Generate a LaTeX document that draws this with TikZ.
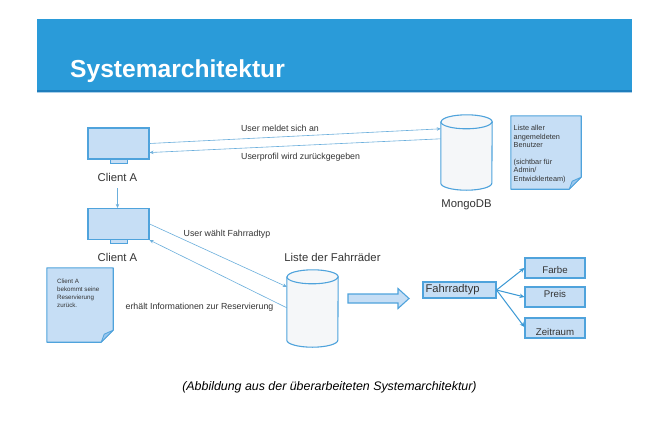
\documentclass[tikz,border=0pt]{standalone}
\usepackage{fontspec}
\setmainfont{Liberation Sans}
\usetikzlibrary{arrows.meta,calc}
\definecolor{banner}{HTML}{2A9BD9}
\definecolor{bannerdark}{HTML}{1F7EBC}
\definecolor{bannerlight}{HTML}{A9CFEA}
\definecolor{boxblue}{HTML}{C6DEF5}
\definecolor{edgeblue}{HTML}{4FA3DC}
\definecolor{lineblue}{HTML}{6BAFDC}
\definecolor{arrblue}{HTML}{3A98D4}
\definecolor{cylfill}{HTML}{F5F7F9}
\definecolor{textgray}{HTML}{333333}
\definecolor{foldblue}{HTML}{9CC6EC}
\newcommand{\mycyl}[1]{%
  \draw[draw=edgeblue, fill=cylfill, line width=1.1pt]
    ([yshift=-7pt]#1.north west) -- ([yshift=7pt]#1.south west)
    arc[start angle=180, end angle=360, x radius=25.5pt, y radius=7pt]
    -- ([yshift=-7pt]#1.north east)
    arc[start angle=0, end angle=180, x radius=25.5pt, y radius=7pt] -- cycle;
  \draw[draw=edgeblue, line width=1.1pt]
    ([yshift=-7pt]#1.north west)
    arc[start angle=180, end angle=360, x radius=25.5pt, y radius=7pt];}
\newcommand{\mynote}[1]{%
  \draw[draw=edgeblue, fill=boxblue, line width=1.1pt, line join=round]
    (#1.north west) -- (#1.north east) -- ([yshift=12pt]#1.south east)
    -- ([xshift=-12pt]#1.south east) -- (#1.south west) -- cycle;
  \draw[draw=edgeblue, fill=foldblue, line width=0.8pt, line join=round]
    ([yshift=12pt]#1.south east) -- ([xshift=-9pt,yshift=8pt]#1.south east)
    -- ([xshift=-12pt]#1.south east) -- cycle;}
\begin{document}
\begin{tikzpicture}[x=1pt,y=-1pt,
  conn/.style={draw=lineblue, line width=0.6pt, -{Stealth[length=4pt,width=3.5pt]}},
  fconn/.style={draw=arrblue, line width=1pt, -{Stealth[length=5pt,width=4.5pt]}},
  monitor/.style={draw=edgeblue, fill=boxblue, line width=1.1pt, minimum width=61pt, minimum height=31pt, inner sep=0pt},
  stand/.style={draw=edgeblue, fill=boxblue, line width=0.9pt, minimum width=17pt, minimum height=4pt, inner sep=0pt},
  lbl/.style={font=\fontsize{11.3}{13}\selectfont, text=textgray, inner sep=0pt},
  small/.style={font=\fontsize{8.8}{10}\selectfont, text=textgray, inner sep=0pt},
  ghost/.style={draw=none, inner sep=0pt},
  attr/.style={draw=edgeblue, fill=boxblue, line width=1.1pt, minimum width=60pt, minimum height=20pt, inner sep=0pt},
  attrtext/.style={font=\fontsize{9.7}{11}\selectfont, text=textgray, inner sep=0pt}
]
\useasboundingbox (0,0) rectangle (664,426);
\fill[white] (0,0) rectangle (664,426);

% banner
\fill[banner] (37,19) rectangle (632,90);
\fill[bannerdark] (37,89.5) rectangle (632,92);
\fill[bannerlight] (37,92) rectangle (632,93);
\node[anchor=base west, font=\bfseries\fontsize{24.6}{28}\selectfont, text=white, inner sep=0pt] (title) at (70,77) {Systemarchitektur};

% clients
\node[monitor] (ca1) at (118.5,143.5) {};
\node[stand] (st1) at (118.5,161) {};
\node[lbl] (la1) at (117.5,177) {Client A};
\node[monitor] (ca2) at (118.5,224) {};
\node[stand] (st2) at (118.5,241) {};
\node[lbl] (la2) at (117.5,257) {Client A};
\coordinate (dstart) at (117.5,188);
\draw[conn] (dstart) -- (ca2.north -| dstart);

% MongoDB
\node[ghost, minimum width=51pt, minimum height=75pt] (mongo) at (466.5,152.5) {};
\mycyl{mongo}
\node[lbl] (mlabel) at (466.5,205) {MongoDB};

% note top right
\node[ghost, minimum width=70pt, minimum height=73pt] (note1) at (546,152.5) {};
\mynote{note1}
\node[anchor=north west, align=left, inner sep=0pt, text=textgray,
      font=\fontsize{7.3}{8.4}\selectfont] (note1t) at (513.5,125.5)
  {Liste aller\\angemeldeten\\Benutzer\\[8.4pt](sichtbar für\\Admin/\\Entwicklerteam)};

% connectors client - mongo
\draw[conn] (ca1.east) -- ([yshift=-14pt]mongo.north west);
\draw[conn] ([yshift=-24pt]mongo.north west) -- ([yshift=7pt]ca1.south east);
\node[small] (l1) at (280,128) {User meldet sich an};
\node[small, anchor=west] (l2) at (241,157) {Userprofil wird zurückgegeben};

% Liste der Fahrraeder
\node[ghost, minimum width=51pt, minimum height=77pt] (liste) at (312.5,308.5) {};
\mycyl{liste}
\node[lbl] (llabel) at (332.5,257) {Liste der Fahrräder};

\draw[conn] ([yshift=-16pt]ca2.north east) -- ([yshift=-17pt]liste.north west);
\draw[conn] ([yshift=-38pt]liste.north west) -- (ca2.south east);
\node[small] (l3) at (227,234) {User wählt Fahrradtyp};
\node[small] (l4) at (199.5,307) {erhält Informationen zur Reservierung};

% note bottom left
\node[ghost, minimum width=66pt, minimum height=74pt] (note2) at (80,305) {};
\mynote{note2}
\node[anchor=north west, align=left, inner sep=0pt, text=textgray,
      font=\fontsize{6.2}{7.8}\selectfont] (note2t) at (57,279)
  {Client A\\bekommt seine\\Reservierung\\zurück.};

% block arrow
\coordinate (ba) at (348,298.5);
\draw[draw=edgeblue, fill=boxblue, line width=1.1pt, line join=miter]
  ($(ba)+(0,-4.5)$) -- ($(ba)+(50,-4.5)$) -- ($(ba)+(50,-10)$) -- ($(ba)+(61,0)$)
  -- ($(ba)+(50,10)$) -- ($(ba)+(50,4.5)$) -- ($(ba)+(0,4.5)$) -- cycle;

% Fahrradtyp and attributes
\node[draw=edgeblue, fill=boxblue, line width=1.1pt, minimum height=16pt,
      text width=68pt, inner xsep=2.5pt, inner ysep=0pt, align=left,
      font=\fontsize{11.2}{13}\selectfont, text=textgray] (ftyp) at (459.5,290) {Fahrradtyp};
\node[attr, label={[attrtext, yshift=-2pt]center:Farbe}] (farbe) at (555,268) {};
\node[attr, label={[attrtext, yshift=3pt]center:Preis}] (preis) at (555,297) {};
\node[attr, label={[attrtext, yshift=-4pt]center:Zeitraum}] (zeit) at (555,328) {};
\draw[fconn] (ftyp.east) -- (farbe.west);
\draw[fconn] (ftyp.east) -- (preis.west);
\draw[fconn] (ftyp.east) -- ([yshift=1pt]zeit.west);

% caption
\node[font=\itshape\fontsize{12.4}{14}\selectfont, text=black, inner sep=0pt] (cap) at (329.5,387)
  {(Abbildung aus der überarbeiteten Systemarchitektur)};
\end{tikzpicture}
\end{document}
